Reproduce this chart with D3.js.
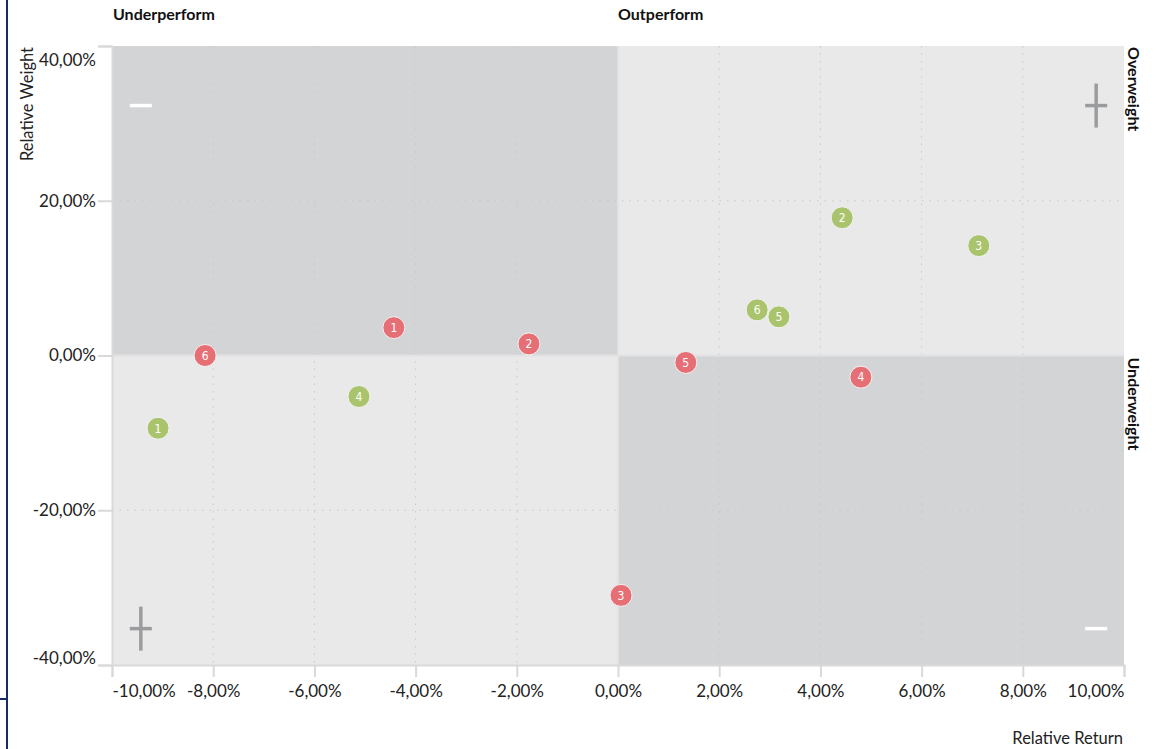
<!DOCTYPE html>
<html><head><meta charset="utf-8">
<script src="https://cdn.jsdelivr.net/npm/d3@7"></script>
<style>
html,body{margin:0;padding:0;background:#fff;}
svg{display:block;font-family:Lato,"Open Sans",sans-serif;}
</style></head>
<body>
<svg id="chart" width="1166" height="749"></svg>
<script>
// ---- data ----
const xTicks = [-10,-8,-6,-4,-2,0,2,4,6,8,10];
const yTicks = [40,20,0,-20,-40];
const redIds = [1,2,3,4,5,6];
const redX   = [-4.43,-1.76,0.06,4.80,1.34,-8.16];
const redY   = [3.6,1.5,-31.0,-2.8,-0.9,0.0];
const greenIds = [1,2,3,4,5,6];
const greenX   = [-9.09,4.43,7.13,-5.12,3.18,2.75];
const greenY   = [-9.4,17.8,14.2,-5.3,5.0,5.9];
const topLabels = ["Underperform","Outperform"];
const sideLabels = ["Overweight","Underweight"];
const fmt = v => (v<0?"-":"") + Math.abs(v).toFixed(2).replace(".", ",") + "%";

const svg = d3.select("#chart");
const L = 112, R = 1124, T = 46, B = 665;
const x = d3.scaleLinear().domain([-10,10]).range([L,R]);
const y = d3.scaleLinear().domain([-40,40]).range([B,T]);

// left navy rule
svg.append("line").attr("x1",7).attr("x2",7).attr("y1",0).attr("y2",749).attr("stroke","#1b2a6b").attr("stroke-width",2);
svg.append("line").attr("x1",0).attr("x2",7).attr("y1",699).attr("y2",699).attr("stroke","#1b2a6b").attr("stroke-width",2);

// quadrants
const quads = [
  {x0:-10,x1:0,y0:0,y1:40,c:"#d3d4d6"},
  {x0:0,x1:10,y0:0,y1:40,c:"#e9e9ea"},
  {x0:-10,x1:0,y0:-40,y1:0,c:"#e9e9ea"},
  {x0:0,x1:10,y0:-40,y1:0,c:"#d3d4d6"}
];
svg.selectAll("rect.q").data(quads).enter().append("rect")
  .attr("x",d=>x(d.x0)).attr("y",d=>y(d.y1))
  .attr("width",d=>x(d.x1)-x(d.x0)).attr("height",d=>y(d.y0)-y(d.y1))
  .attr("fill",d=>d.c);

// grid
const g = svg.append("g");
g.selectAll("line.vx").data(xTicks.filter(t=>t!==-10&&t!==10&&t!==0)).enter().append("line")
  .attr("x1",d=>x(d)).attr("x2",d=>x(d)).attr("y1",T).attr("y2",B)
  .attr("stroke","#c9c9cb").attr("stroke-width",1).attr("stroke-dasharray","1.5,6");
g.selectAll("line.hy").data(yTicks.filter(t=>t!==40&&t!==-40&&t!==0)).enter().append("line")
  .attr("x1",L).attr("x2",R).attr("y1",d=>y(d)).attr("y2",d=>y(d))
  .attr("stroke","#c9c9cb").attr("stroke-width",1).attr("stroke-dasharray","1.5,6");
// zero separators
svg.append("line").attr("x1",x(0)).attr("x2",x(0)).attr("y1",T).attr("y2",B).attr("stroke","#e2e2e3").attr("stroke-width",2);
svg.append("line").attr("x1",L).attr("x2",R).attr("y1",y(0)).attr("y2",y(0)).attr("stroke","#e2e2e3").attr("stroke-width",2);

// axes
const xAxis = svg.append("g").attr("transform",`translate(0,${B})`)
  .call(d3.axisBottom(x).tickValues(xTicks).tickFormat(fmt).tickSize(12).tickPadding(8));
xAxis.select(".domain").attr("stroke","#d9d9d9").attr("stroke-width",2);
xAxis.selectAll(".tick line").attr("stroke","#d9d9d9").attr("stroke-width",2);
xAxis.selectAll(".tick text").attr("font-size",17).attr("fill","#222").attr("font-family","Lato")
  .attr("text-anchor",d=>d===-10?"start":d===10?"end":"middle");

const yAxis = svg.append("g").attr("transform",`translate(${L},0)`)
  .call(d3.axisLeft(y).tickValues(yTicks).tickFormat(fmt).tickSize(14).tickPadding(2));
yAxis.select(".domain").attr("stroke","#d9d9d9").attr("stroke-width",2);
yAxis.selectAll(".tick line").attr("stroke","#d9d9d9").attr("stroke-width",2);
yAxis.selectAll(".tick text").attr("font-size",17).attr("fill","#222").attr("font-family","Lato")
  .attr("dy",d=>d===40?"1.15em":d===-40?"-0.1em":"0.32em");

// quadrant symbols
function minus(cx,cy,col){svg.append("line").attr("x1",cx-11).attr("x2",cx+11).attr("y1",cy).attr("y2",cy).attr("stroke",col).attr("stroke-width",3.5);}
function plus(cx,cy,col){minus(cx,cy,col);svg.append("line").attr("x1",cx).attr("x2",cx).attr("y1",cy-22).attr("y2",cy+22).attr("stroke",col).attr("stroke-width",3.5);}
minus(x(-9.43),y(32.3),"#ffffff");
plus(x(-9.43),y(-35.3),"#9b9c9e");
plus(x(9.45),y(32.3),"#9b9c9e");
minus(x(9.45),y(-35.3),"#ffffff");

// labels
const bold = 16;
svg.append("text").attr("x",x(-10)+1).attr("y",20).text(topLabels[0]).attr("font-weight","bold").attr("font-size",bold).attr("fill","#111");
svg.append("text").attr("x",x(0)).attr("y",20).text(topLabels[1]).attr("font-weight","bold").attr("font-size",bold).attr("fill","#111");
svg.append("text").attr("transform",`translate(1128,${T+1}) rotate(90)`).text(sideLabels[0]).attr("font-weight","bold").attr("font-size",bold).attr("fill","#111");
svg.append("text").attr("transform",`translate(1128,${y(0)+2}) rotate(90)`).text(sideLabels[1]).attr("font-weight","bold").attr("font-size",bold).attr("fill","#111");
svg.append("text").attr("transform",`translate(33,${T+1}) rotate(-90)`).attr("text-anchor","end").text("Relative Weight").attr("font-size",16.5).attr("fill","#222");
svg.append("text").attr("x",R-1).attr("y",744).attr("text-anchor","end").text("Relative Return").attr("font-size",16.5).attr("fill","#222");

// points
function series(ids,xs,ys,col){
  const data = ids.map((id,i)=>({id,x:xs[i],y:ys[i]}));
  const gp = svg.append("g").selectAll("g").data(data).enter().append("g")
    .attr("transform",d=>`translate(${x(d.x)},${y(d.y)})`);
  gp.append("circle").attr("r",11).attr("fill",col).attr("stroke","#f4f4f4").attr("stroke-width",1);
  gp.append("text").text(d=>d.id).attr("text-anchor","middle").attr("dy","0.36em")
    .attr("font-family","'DejaVu Sans Condensed','DejaVu Sans',sans-serif").attr("font-stretch","condensed")
    .attr("font-size",12).attr("font-weight",300).attr("fill","#fff");
}
series(greenIds,greenX,greenY,"#a9c46d");
series(redIds,redX,redY,"#e66f76");
</script>
</body></html>
